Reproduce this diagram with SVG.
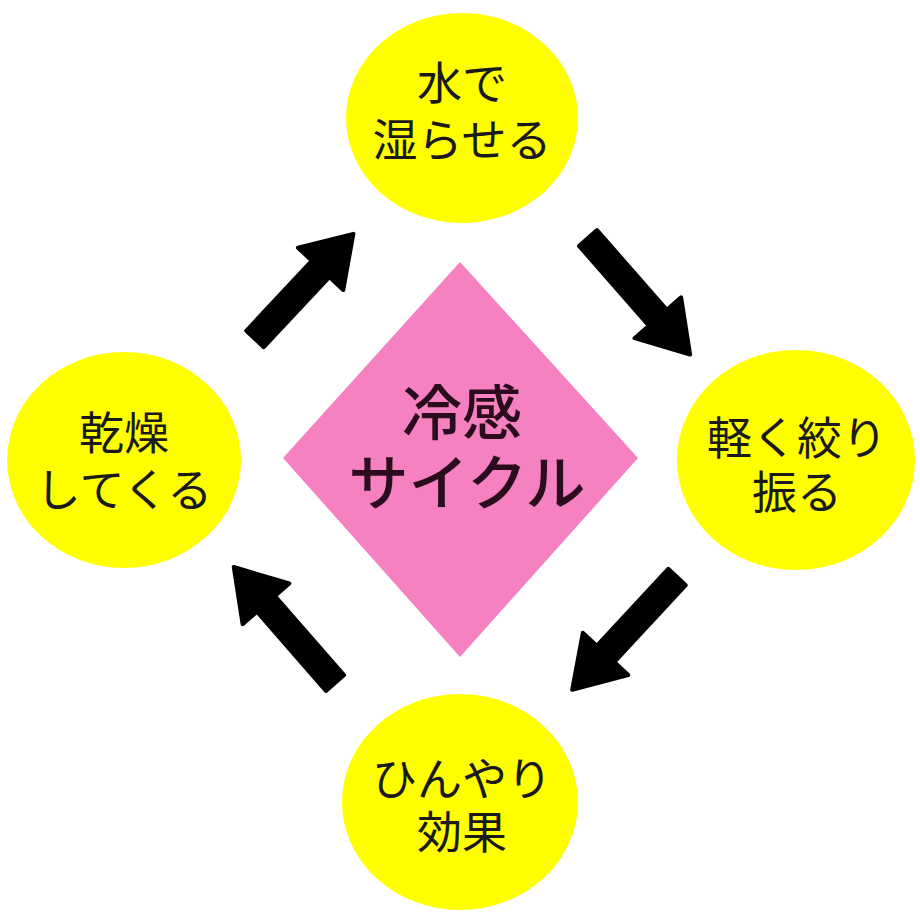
<svg xmlns="http://www.w3.org/2000/svg" width="920" height="920" viewBox="0 0 920 920">
<style>
.circ{fill:#ffff00;}
.lbl{font-family:"Noto Sans CJK JP","Noto Sans",sans-serif;font-size:45px;fill:#1a1a1a;text-anchor:middle;}
.ctr{font-family:"Noto Sans CJK JP","Noto Sans",sans-serif;font-size:60px;font-weight:500;fill:#2a0c1c;text-anchor:middle;}
.arr{fill:#000;stroke:#000;stroke-width:4;stroke-linejoin:round;}
</style>
<rect width="920" height="920" fill="#ffffff"/>
<g id="center">
<polygon points="460,262 638,458 460,657 283,458" fill="#f581c0"/>
<text class="ctr"><tspan x="462" y="435">冷感</tspan><tspan x="467" y="505">サイクル</tspan></text>
</g>
<g id="node-top">
<ellipse class="circ" cx="462" cy="118" rx="116" ry="105"/>
<text class="lbl"><tspan x="462" y="100">水で</tspan><tspan x="462" y="157">湿らせる</tspan></text>
</g>
<g id="node-right">
<ellipse class="circ" cx="796" cy="460" rx="119" ry="110"/>
<text class="lbl"><tspan x="797" y="455">軽く絞り</tspan><tspan x="797" y="509">振る</tspan></text>
</g>
<g id="node-bottom">
<ellipse class="circ" cx="460" cy="802" rx="118" ry="108"/>
<text class="lbl"><tspan x="462" y="796">ひんやり</tspan><tspan x="462" y="849">効果</tspan></text>
</g>
<g id="node-left">
<ellipse class="circ" cx="124" cy="460" rx="117" ry="108"/>
<text class="lbl"><tspan x="124" y="450">乾燥</tspan><tspan x="124" y="507">してくる</tspan></text>
</g>
<g id="connectors">
<path class="arr" transform="translate(255,339) rotate(-46.9)" d="M0,-12 L96,-12 L96,-31 L144,0 L96,31 L96,12 L0,12 Z"/>
<path class="arr" transform="translate(588,238) rotate(48.8)" d="M0,-12 L106,-12 L106,-31 L155,0 L106,31 L106,12 L0,12 Z"/>
<path class="arr" transform="translate(677,577) rotate(132.9)" d="M0,-12 L105,-12 L105,-31 L154,0 L105,31 L105,12 L0,12 Z"/>
<path class="arr" transform="translate(335,683) rotate(228.9)" d="M0,-12 L105,-12 L105,-31 L154,0 L105,31 L105,12 L0,12 Z"/>
</g>
</svg>
